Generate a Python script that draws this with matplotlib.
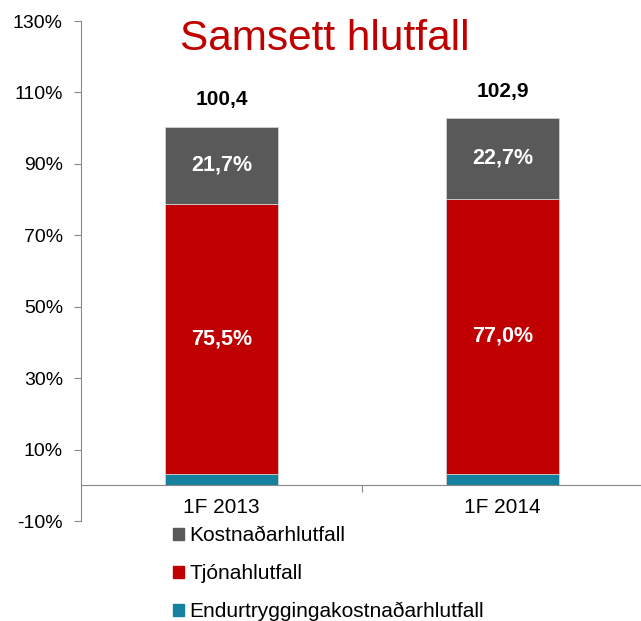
import matplotlib
matplotlib.use('Agg')
import matplotlib.pyplot as plt
from matplotlib.patches import Patch

plt.rcParams['font.family'] = ['Liberation Sans', 'DejaVu Sans']

# data
categories = ['1F 2013', '1F 2014']
endurtrygging = [3.2, 3.2]
tjon = [75.5, 77.0]
kostnadur = [21.7, 22.7]
totals = [100.4, 102.9]
series_names = ['Kostnaðarhlutfall', 'Tjónahlutfall', 'Endurtryggingakostnaðarhlutfall']
yticks = [-10, 10, 30, 50, 70, 90, 110, 130]

c_grey = '#595959'
c_red = '#C00000'
c_teal = '#16809F'

def fmt(v):
    return f'{v:.1f}'.replace('.', ',')

fig = plt.figure(figsize=(6.41, 6.21), dpi=100)
ax = fig.add_axes([81/641, 1 - 521/621, 562/641, 500/621])

x = list(range(len(categories)))
w = 0.4
ax.bar(x, endurtrygging, w, color=c_teal, edgecolor='#d0d0d0', linewidth=0.6)
ax.bar(x, tjon, w, bottom=endurtrygging, color=c_red, edgecolor='#d0d0d0', linewidth=0.6)
bot2 = [a + b for a, b in zip(endurtrygging, tjon)]
ax.bar(x, kostnadur, w, bottom=bot2, color=c_grey, edgecolor='#d0d0d0', linewidth=0.6)

for i in x:
    ax.text(i, endurtrygging[i] + tjon[i] / 2, fmt(tjon[i]) + '%', ha='center', va='center',
            color='white', fontsize=15.5, fontweight='bold')
    ax.text(i, bot2[i] + kostnadur[i] / 2, fmt(kostnadur[i]) + '%', ha='center', va='center',
            color='white', fontsize=15.5, fontweight='bold')
    ax.text(i, totals[i] + 7.5, fmt(totals[i]), ha='center', va='center',
            color='black', fontsize=15, fontweight='bold')

ax.set_xlim(-0.5, 1.5)
ax.set_ylim(-10, 130)
ax.set_yticks(yticks)
ax.set_yticklabels([f'{t}%' for t in yticks])

ax.set_xticks([0.5])
ax.set_xticklabels([''])
ax.set_xticks(x, minor=True)
ax.set_xticklabels(categories, minor=True)
ax.tick_params(axis='x', which='minor', length=0, pad=9, labelsize=15)
ax.tick_params(axis='x', which='major', length=5, color='#888888')
ax.tick_params(axis='y', length=5, color='#888888', pad=8, labelsize=14)

for s in ['top', 'right']:
    ax.spines[s].set_visible(False)
ax.spines['bottom'].set_position(('data', 0))
ax.spines['bottom'].set_color('#888888')
ax.spines['left'].set_color('#888888')

fig.text(325/641, 1 - 39/621, 'Samsett hlutfall', ha='center', va='center',
         color=c_red, fontsize=30.5)

handles = [Patch(color=c_grey), Patch(color=c_red), Patch(color=c_teal)]
fig.legend(handles, series_names, loc='upper left', bbox_to_anchor=(163/641, 1 - 516/621),
           frameon=False, fontsize=15, handlelength=0.5, handleheight=0.5,
           handletextpad=0.25, labelspacing=0.9, borderpad=0)

fig.savefig('out.png', dpi=100)
